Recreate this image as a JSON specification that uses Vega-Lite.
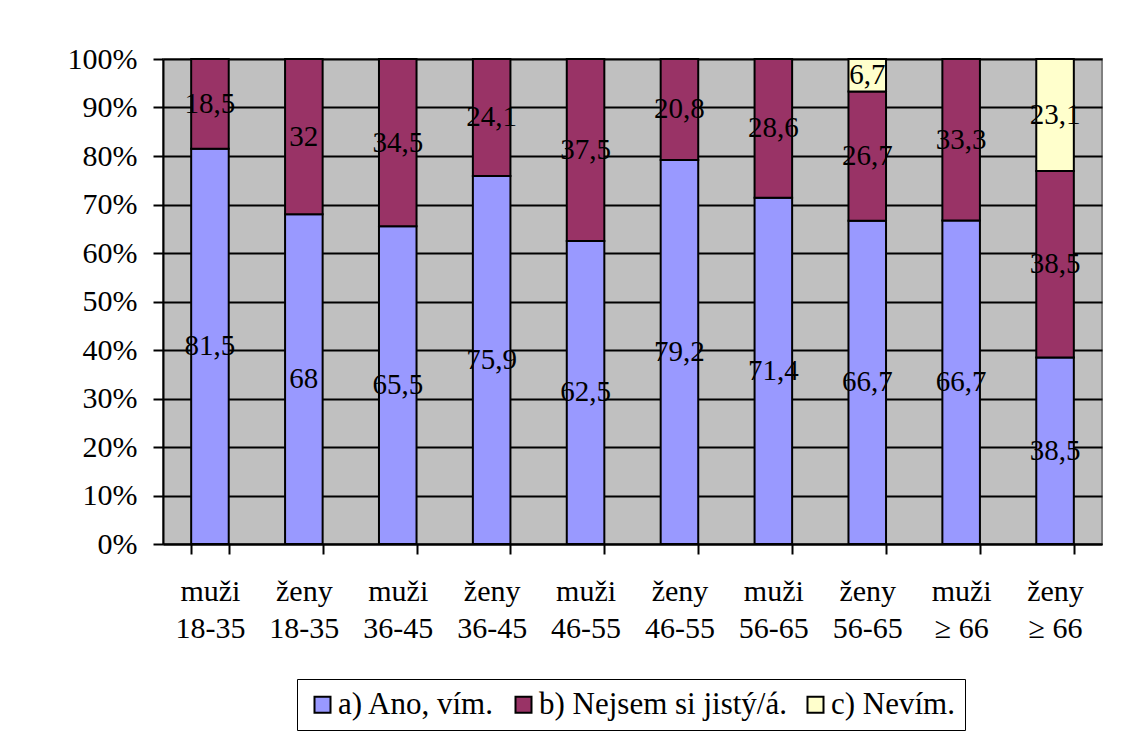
{
  "$schema": "https://vega.github.io/schema/vega-lite/v6.json",
  "width": 939,
  "height": 485,
  "autosize": {"type": "none"},
  "padding": {"left": 163, "top": 59, "right": 19, "bottom": 191},
  "background": "white",
  "data": {
    "values": [
      {"skupina": "muži 18-35", "odpoved": "a) Ano, vím.", "podil": 81.5},
      {"skupina": "muži 18-35", "odpoved": "b) Nejsem si jistý/á.", "podil": 18.5},
      {"skupina": "ženy 18-35", "odpoved": "a) Ano, vím.", "podil": 68},
      {"skupina": "ženy 18-35", "odpoved": "b) Nejsem si jistý/á.", "podil": 32},
      {"skupina": "muži 36-45", "odpoved": "a) Ano, vím.", "podil": 65.5},
      {"skupina": "muži 36-45", "odpoved": "b) Nejsem si jistý/á.", "podil": 34.5},
      {"skupina": "ženy 36-45", "odpoved": "a) Ano, vím.", "podil": 75.9},
      {"skupina": "ženy 36-45", "odpoved": "b) Nejsem si jistý/á.", "podil": 24.1},
      {"skupina": "muži 46-55", "odpoved": "a) Ano, vím.", "podil": 62.5},
      {"skupina": "muži 46-55", "odpoved": "b) Nejsem si jistý/á.", "podil": 37.5},
      {"skupina": "ženy 46-55", "odpoved": "a) Ano, vím.", "podil": 79.2},
      {"skupina": "ženy 46-55", "odpoved": "b) Nejsem si jistý/á.", "podil": 20.8},
      {"skupina": "muži 56-65", "odpoved": "a) Ano, vím.", "podil": 71.4},
      {"skupina": "muži 56-65", "odpoved": "b) Nejsem si jistý/á.", "podil": 28.6},
      {"skupina": "ženy 56-65", "odpoved": "a) Ano, vím.", "podil": 66.7},
      {"skupina": "ženy 56-65", "odpoved": "b) Nejsem si jistý/á.", "podil": 26.7},
      {"skupina": "ženy 56-65", "odpoved": "c) Nevím.", "podil": 6.7},
      {"skupina": "muži ≥ 66", "odpoved": "a) Ano, vím.", "podil": 66.7},
      {"skupina": "muži ≥ 66", "odpoved": "b) Nejsem si jistý/á.", "podil": 33.3},
      {"skupina": "ženy ≥ 66", "odpoved": "a) Ano, vím.", "podil": 38.5},
      {"skupina": "ženy ≥ 66", "odpoved": "b) Nejsem si jistý/á.", "podil": 38.5},
      {"skupina": "ženy ≥ 66", "odpoved": "c) Nevím.", "podil": 23.1}
    ]
  },
  "encoding": {
    "x": {
      "field": "skupina",
      "type": "nominal",
      "sort": null,
      "scale": {"paddingInner": 0.6, "paddingOuter": 0.3},
      "axis": {
        "title": null,
        "labelAngle": 0,
        "tickBand": "extent",
        "labelExpr": "[slice(datum.label, 0, 4), slice(datum.label, 5)]",
        "labelLineHeight": 37,
        "labelPadding": 22,
        "tickSize": 10,
        "grid": false
      }
    }
  },
  "layer": [
    {
      "mark": {"type": "bar", "stroke": "black", "strokeWidth": 2},
      "encoding": {
        "y": {
          "field": "podil",
          "type": "quantitative",
          "stack": "normalize",
          "scale": {"domain": [0, 1], "nice": false},
          "axis": {
            "title": null,
            "format": ".0%",
            "values": [0, 0.1, 0.2, 0.3, 0.4, 0.5, 0.6, 0.7, 0.8, 0.9, 1],
            "tickSize": 10,
            "labelPadding": 16,
            "grid": true,
            "gridColor": "black",
            "gridWidth": 2,
            "gridOpacity": 1
          }
        },
        "color": {
          "field": "odpoved",
          "type": "nominal",
          "scale": {
            "domain": ["a) Ano, vím.", "b) Nejsem si jistý/á.", "c) Nevím."],
            "range": ["#9999FF", "#993366", "#FFFFCC"]
          },
          "legend": {
            "title": null,
            "orient": "none",
            "direction": "horizontal",
            "legendX": 134,
            "legendY": 620,
            "fillColor": "white",
            "strokeColor": "black",
            "padding": 10,
            "symbolType": "square",
            "symbolSize": 256,
            "symbolStrokeColor": "black",
            "symbolStrokeWidth": 2,
            "symbolOpacity": 1,
            "labelFont": "Liberation Serif, Times New Roman, serif",
            "labelFontSize": 31,
            "labelColor": "black",
            "labelOffset": 0,
            "columnPadding": 13,
            "labelLimit": 400
          }
        },
        "order": {"field": "odpoved", "sort": "ascending"}
      }
    },
    {
      "transform": [
        {
          "stack": "podil",
          "groupby": ["skupina"],
          "sort": [{"field": "odpoved", "order": "ascending"}],
          "offset": "normalize",
          "as": ["dolni", "horni"]
        },
        {"calculate": "(datum.dolni + datum.horni) / 2", "as": "stred"},
        {"calculate": "replace(format(datum.podil, '.1~f'), '.', ',')", "as": "popisek"}
      ],
      "mark": {
        "type": "text",
        "font": "Liberation Serif, Times New Roman, serif",
        "fontSize": 29,
        "color": "black",
        "baseline": "middle",
        "align": "center"
      },
      "encoding": {
        "y": {"field": "stred", "type": "quantitative"},
        "text": {"field": "popisek", "type": "nominal"}
      }
    }
  ],
  "config": {
    "font": "Liberation Serif, Times New Roman, serif",
    "view": {"fill": "#C0C0C0", "stroke": "#808080", "strokeWidth": 2},
    "axis": {
      "labelFont": "Liberation Serif, Times New Roman, serif",
      "labelFontSize": 30,
      "labelColor": "black",
      "domainColor": "black",
      "domainWidth": 2,
      "tickColor": "black",
      "tickWidth": 2
    }
  }
}
